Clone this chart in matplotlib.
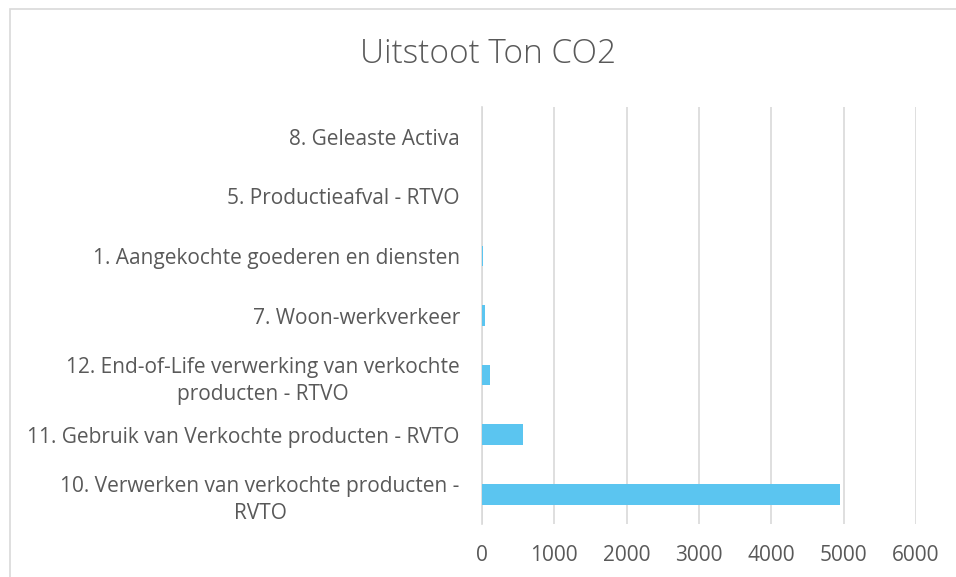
import matplotlib
matplotlib.use("Agg")
import matplotlib.pyplot as plt
from matplotlib.patches import Rectangle

categories = [
    "10. Verwerken van verkochte producten -\nRVTO",
    "11. Gebruik van Verkochte producten - RVTO",
    "12. End-of-Life verwerking van verkochte\nproducten - RTVO",
    "7. Woon-werkverkeer",
    "1. Aangekochte goederen en diensten",
    "5. Productieafval - RTVO",
    "8. Geleaste Activa",
]
values = [4950, 560, 110, 40, 10, 2, 1]
xticks = [0, 1000, 2000, 3000, 4000, 5000, 6000]
title = "Uitstoot Ton CO2"

plt.rcParams['font.family'] = ['Open Sans', 'DejaVu Sans']

fig = plt.figure(figsize=(9.56, 5.77), dpi=100)
fig.patches.append(Rectangle((10/956, -0.1), 1.2, 1.1 - 9/577, transform=fig.transFigure,
                             fill=False, edgecolor='#D9D9D9', linewidth=1.2))
ax = fig.add_axes([482/956, 1 - 524/577, 434/956, 417/577])

y = range(len(categories))
ax.barh(list(y), values, height=0.35, color='#5BC5F0', zorder=3)
ax.set_xlim(0, 6000)
ax.set_ylim(-0.5, len(categories) - 0.5)
ax.set_xticks(xticks)
ax.set_xticklabels([str(t) for t in xticks], fontsize=15, color='#595959')
ax.set_yticks(list(y))
ax.set_yticklabels(categories, fontsize=15, color='#595959',
                   multialignment='center', linespacing=1.4)
ax.tick_params(axis='both', length=0)
ax.tick_params(axis='x', pad=15)
ax.tick_params(axis='y', pad=16)
ax.grid(axis='x', color='#D9D9D9', linewidth=1.2, zorder=0)
for s in ['top', 'right', 'bottom']:
    ax.spines[s].set_visible(False)
ax.spines['left'].set_color('#D9D9D9')
ax.spines['left'].set_linewidth(1.2)

fig.text(488/956, 1 - 54/577, title, ha='center', va='center', fontsize=24,
         color='#595959', fontweight='light')

fig.savefig("out.png", dpi=100)
